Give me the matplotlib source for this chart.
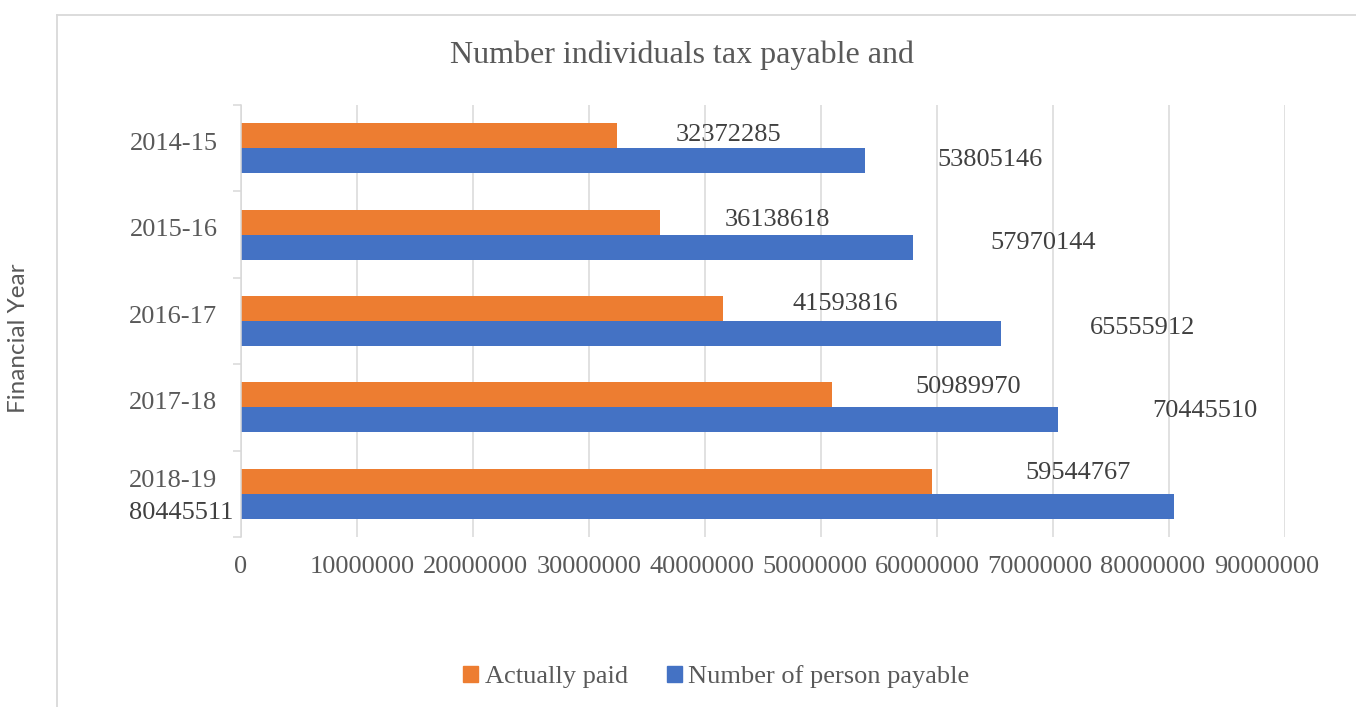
import numpy as np
import matplotlib.pyplot as plt
import matplotlib.transforms as mtransforms
from matplotlib.patches import Patch
from matplotlib.lines import Line2D

years = ['2014-15', '2015-16', '2016-17', '2017-18', '2018-19']
actually_paid = [32372285, 36138618, 41593816, 50989970, 59544767]
person_payable = [53805146, 57970144, 65555912, 70445510, 80445511]
x_ticks = [0, 10000000, 20000000, 30000000, 40000000, 50000000,
           60000000, 70000000, 80000000, 90000000]

# where each data label sits, in pixels from the end of its bar
paid_offsets = [(59, 1), (64, 2.5), (69, 4.5), (83, 7.5), (94, 8.5)]
payable_offsets = [(72, 1), (77, 4.5), (88, 5.5), (94, 8.5), None]

plt.rcParams['font.family'] = 'Liberation Serif'
grey = '#595959'
line_grey = '#d9d9d9'

W, H = 1356, 707
fig = plt.figure(figsize=(W / 100, H / 100), dpi=100)
ax = fig.add_axes([241 / W, 1 - 537 / H, 1044 / W, 432 / H])

y = np.arange(len(years))
h = 25 / 86.4
ax.barh(y - h / 2, actually_paid, height=h, color='#ED7D31')
ax.barh(y + h / 2, person_payable, height=h, color='#4472C4')

ax.set_xlim(x_ticks[0], x_ticks[-1])
ax.set_ylim(4.5, -0.5)
ax.set_xticks(x_ticks, [str(t) for t in x_ticks])
ax.grid(axis='x', color=line_grey, linewidth=1.1)
ax.set_axisbelow(True)
for s in ['top', 'right', 'bottom']:
    ax.spines[s].set_visible(False)
ax.spines['left'].set_color(line_grey)
ax.spines['left'].set_linewidth(1.1)

ax.tick_params(axis='x', length=0, pad=13.5, labelsize=19, labelcolor=grey)
ax.set_yticks(y, years)
ax.set_yticks(np.arange(-0.5, len(years), 1), minor=True)
ax.tick_params(axis='y', which='major', length=0, pad=17, labelsize=19, labelcolor=grey)
ax.tick_params(axis='y', which='minor', length=5.8, width=1.1, color=line_grey)

# category labels sit a little above the band centre
for lbl, dy in zip(ax.get_yticklabels(), [7, 7, 7, 7, 15]):
    lbl.set_transform(lbl.get_transform() +
                      mtransforms.ScaledTranslation(0, dy / 100, fig.dpi_scale_trans))

# the long value labels get squeezed together towards the right edge
x_shift = [0, 5, 2.5, 0, -3, -6.5, -10, -13, -16, -18.5]
for lbl, dx in zip(ax.get_xticklabels(), x_shift):
    lbl.set_transform(lbl.get_transform() +
                      mtransforms.ScaledTranslation(dx / 100, 0, fig.dpi_scale_trans))

for i, v in enumerate(actually_paid):
    dx, dy = paid_offsets[i]
    ax.annotate(f"{v}", xy=(v, y[i] - h / 2), xytext=(dx, dy),
                textcoords='offset pixels', ha='left', va='center',
                fontsize=19, color='#404040')
for i, v in enumerate(person_payable):
    if payable_offsets[i] is None:
        ax.annotate(f"{v}", xy=(0, y[i] + h / 2), xytext=(-8, -7),
                    textcoords='offset pixels', ha='right', va='center',
                    fontsize=19, color='#404040')
        continue
    dx, dy = payable_offsets[i]
    ax.annotate(f"{v}", xy=(v, y[i] + h / 2), xytext=(dx, dy),
                textcoords='offset pixels', ha='left', va='center',
                fontsize=19, color='#404040')

fig.text(682 / W, 1 - 55 / H, 'Number individuals tax payable and',
         ha='center', va='center', fontsize=23, color=grey)
fig.text(19 / W, 1 - 338 / H, 'Financial Year', rotation=90, ha='center',
         va='center', family='Lato', fontsize=17.5, color=grey)

# chart frame
fig.add_artist(Line2D([57 / W, 57 / W], [0, 1 - 15 / H], transform=fig.transFigure,
                      color=line_grey, linewidth=1.3))
fig.add_artist(Line2D([57 / W, 1], [1 - 15 / H, 1 - 15 / H], transform=fig.transFigure,
                      color=line_grey, linewidth=1.3))

handles = [Patch(color='#ED7D31', label='Actually paid'),
           Patch(color='#4472C4', label='Number of person payable')]
fig.legend(handles=handles, loc='center', bbox_to_anchor=(716.5 / W, 1 - 677 / H),
           ncol=2, frameon=False, fontsize=19, handlelength=0.55, handleheight=0.55,
           handletextpad=0.25, columnspacing=1.5, labelcolor=grey)

fig.savefig('out.png', dpi=100)
